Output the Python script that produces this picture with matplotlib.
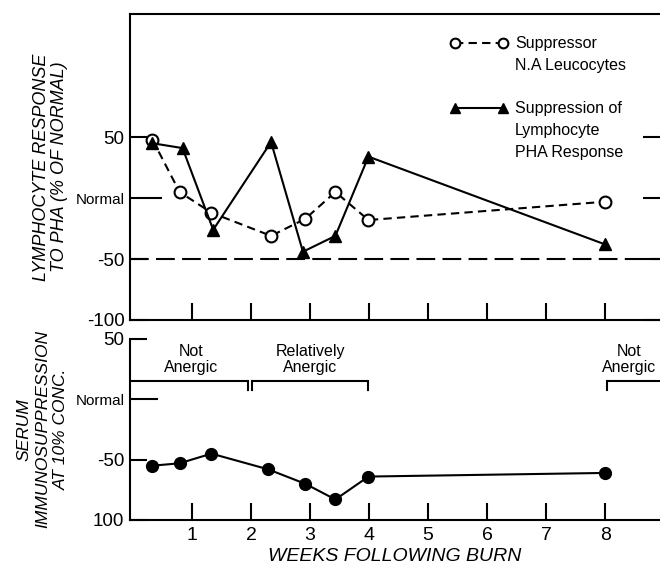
import numpy as np
import matplotlib
matplotlib.use("Agg")
import matplotlib.pyplot as plt

plt.rcParams['font.family'] = ['Liberation Sans', 'DejaVu Sans']

# upper panel: lymphocyte response to PHA (% of normal)
weeks_na = [0.33, 0.79, 1.33, 2.34, 2.92, 3.43, 3.99, 8.0]
suppressor_na = [48, 5, -12, -31, -17, 5, -18, -3]
weeks_pha = [0.33, 0.84, 1.36, 2.34, 2.88, 3.43, 3.99, 8.0]
suppression_pha = [45, 41, -26, 46, -44, -31, 34, -38]

# lower panel: serum immunosuppression at 10% conc.
weeks_serum = [0.33, 0.79, 1.33, 2.29, 2.92, 3.43, 3.99, 8.0]
serum = [-55, -53, -45, -58, -70, -83, -64, -61]

week_ticks = [1, 2, 3, 4, 5, 6, 7, 8]
upper_yticks = [50, 0, -50, -100]
upper_ylabels = ['50', 'Normal', '-50', '-100']
lower_yticks = [50, 0, -50, -100]
lower_ylabels = ['50', 'Normal', '-50', '100']

# bracket spans (weeks) and labels
brackets = [(-0.05, 1.95, 'right'), (2.02, 3.99, 'both'), (8.03, 9.2, 'left')]
bracket_labels = ['Not\nAnergic', 'Relatively\nAnergic', 'Not\nAnergic']
bracket_label_x = [0.98, 3.0, 8.4]

fig = plt.figure(figsize=(6.6, 5.7), dpi=100)
xlim = (-0.05, 8.93)
lw = 1.5

# ---------------- upper panel
ax1 = fig.add_axes([130 / 660, 1 - 320 / 570, 530 / 660, 306 / 570])
ax1.set_xlim(*xlim)
ax1.set_ylim(-100, 151)
ax1.spines['right'].set_visible(False)
for s in ['left', 'top', 'bottom']:
    ax1.spines[s].set_linewidth(lw)

ax1.axhline(-50, color='k', lw=lw, dashes=(9, 3.5))
ax1.plot(weeks_na, suppressor_na, color='k', lw=lw, dashes=(4, 2.5),
         marker='o', ms=8.5, mfc='white', mec='k', mew=1.5, zorder=3)
ax1.plot(weeks_pha, suppression_pha, color='k', lw=lw,
         marker='^', ms=9, mfc='k', mec='k', zorder=3)

ax1.set_xticks(week_ticks)
ax1.set_xticklabels([])
ax1.tick_params(axis='x', direction='in', length=12, width=lw)
ax1.set_yticks(upper_yticks)
ax1.set_yticklabels(upper_ylabels)
ax1.tick_params(axis='y', direction='in', length=12, width=lw, labelsize=13.5,
                pad=4, right=True)
ax1.get_yticklabels()[1].set_fontsize(11)
ax1.yaxis.get_major_ticks()[1].tick1line.set_markersize(23)

# legend drawn by hand
ax1.plot([5.46, 6.27], [127, 127], color='k', lw=lw, dashes=(4, 2.5),
         marker='o', ms=7, mfc='white', mec='k', mew=1.5, clip_on=False)
ax1.plot([5.46, 6.27], [74, 74], color='k', lw=lw,
         marker='^', ms=7, mfc='k', mec='k', clip_on=False)
ax1.text(6.47, 133, 'Suppressor\nN.A Leucocytes', fontsize=11.5,
         va='top', ha='left', linespacing=1.6)
ax1.text(6.47, 80, 'Suppression of\nLymphocyte\nPHA Response', fontsize=11.5,
         va='top', ha='left', linespacing=1.6)

ax1.set_ylabel('LYMPHOCYTE RESPONSE\nTO PHA (% OF NORMAL)', fontsize=13,
               style='italic', linespacing=1.05, va='center')
ax1.yaxis.set_label_coords(-0.15, 0.5)

# ---------------- lower panel
ax2 = fig.add_axes([130 / 660, 1 - 520 / 570, 530 / 660, 181 / 570])
ax2.set_xlim(*xlim)
ax2.set_ylim(-100, 50)
ax2.spines['right'].set_visible(False)
ax2.spines['top'].set_visible(False)
for s in ['left', 'bottom']:
    ax2.spines[s].set_linewidth(lw)

ax2.plot(weeks_serum, serum, color='k', lw=lw, marker='o', ms=8.5,
         mfc='k', mec='k', zorder=3)

ax2.set_xticks(week_ticks)
ax2.set_xticklabels([str(w) for w in week_ticks])
ax2.tick_params(axis='x', direction='in', length=12, width=lw, labelsize=14,
                pad=5)
ax2.set_yticks(lower_yticks)
ax2.set_yticklabels(lower_ylabels)
ax2.tick_params(axis='y', direction='in', length=12, width=lw, labelsize=13.5,
                pad=4)
ax2.get_yticklabels()[1].set_fontsize(11)
ax2.yaxis.get_major_ticks()[1].tick1line.set_markersize(20)

for (x0, x1, ends), lab, lx in zip(brackets, bracket_labels, bracket_label_x):
    ax2.plot([x0, x1], [15, 15], color='k', lw=lw, solid_capstyle='butt')
    if ends in ('left', 'both'):
        ax2.plot([x0, x0], [15, 7.5], color='k', lw=lw)
    if ends in ('right', 'both'):
        ax2.plot([x1, x1], [15, 7.5], color='k', lw=lw)
    ax2.text(lx, 33, lab, fontsize=11.5, ha='center', va='center',
             linespacing=1.1)

ax2.set_ylabel('SERUM\nIMMUNOSUPPRESSION\nAT 10% CONC.', fontsize=12.5,
               style='italic', linespacing=1.3, va='center')
ax2.yaxis.set_label_coords(-0.165, 0.5)

ax2.set_xlabel('WEEKS FOLLOWING BURN', fontsize=14, style='italic',
               labelpad=3)

fig.savefig('out.png', dpi=100)
